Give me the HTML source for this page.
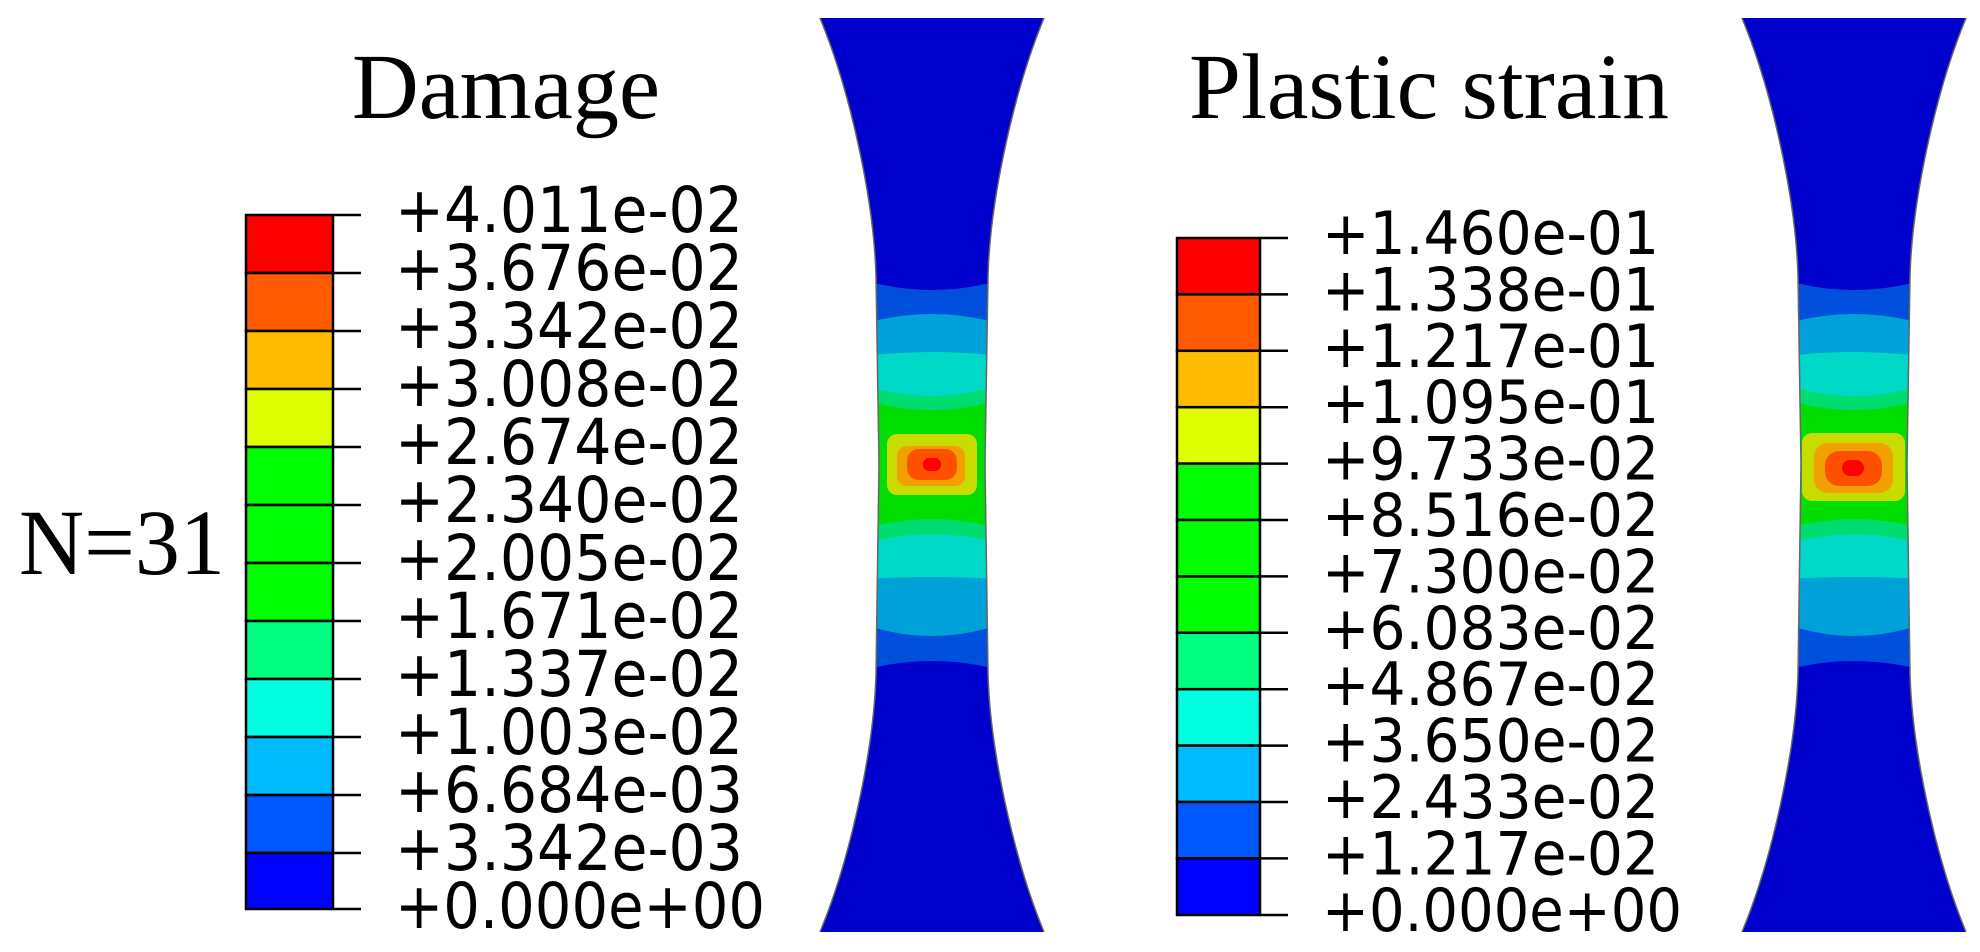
<!DOCTYPE html>
<html><head><meta charset="utf-8"><style>html,body{margin:0;padding:0;background:#fff;}svg{display:block}</style></head>
<body>
<svg width="1980" height="952" viewBox="0 0 1980 952" xmlns="http://www.w3.org/2000/svg">
<defs>
<clipPath id="spec"><path d="M820,18 C850,90 874,200 876,276 L879,464 L876,674 C874,750 850,860 820,932 L1044,932 C1014,860 990,750 988,674 L985,464 L988,276 C990,200 1014,90 1044,18 Z"/></clipPath>
<g id="bands">
<path d="M820,18 C850,90 874,200 876,276 L879,464 L876,674 C874,750 850,860 820,932 L1044,932 C1014,860 990,750 988,674 L985,464 L988,276 C990,200 1014,90 1044,18 Z" fill="#0000cc"/>
<path d="M850,276 Q932,304 1014,276 L1014,674 Q932,648 850,674 Z" fill="#004fdc"/>
<path d="M850,328 Q932,300 1014,328 L1014,619 Q932,653 850,619 Z" fill="#00a0d8"/>
<path d="M850,358 Q932,346 1014,358 L1014,580 Q932,574 850,580 Z" fill="#00d8c8"/>
<path d="M850,380 Q932,412 1014,380 L1014,549 Q932,519 850,549 Z" fill="#00dd70"/>
<path d="M850,395 Q932,425 1014,395 L1014,533 Q932,505 850,533 Z" fill="#00dd00"/>
</g>
</defs>
<g font-family="'Liberation Serif',serif" font-size="93" fill="#000">
<text x="352" y="118" textLength="308" lengthAdjust="spacingAndGlyphs">Damage</text>
<text x="1189" y="118" textLength="480" lengthAdjust="spacingAndGlyphs">Plastic strain</text>
<text x="19" y="574" textLength="206" lengthAdjust="spacingAndGlyphs">N=31</text>
</g>
<g clip-path="url(#spec)"><use href="#bands"/>
<rect x="887" y="434" width="90" height="61" rx="10" fill="#c8dc00"/>
<rect x="897" y="446" width="68" height="40" rx="10" fill="#f0a000"/>
<rect x="907" y="449" width="50" height="31" rx="12" fill="#ff5000"/>
<rect x="923" y="458" width="18" height="13" rx="6" fill="#ff0000"/>
</g>
<path d="M820,18 C850,90 874,200 876,276 L879,464 L876,674 C874,750 850,860 820,932 M1044,932 C1014,860 990,750 988,674 L985,464 L988,276 C990,200 1014,90 1044,18" fill="none" stroke="#666" stroke-width="1.5"/>
<g transform="translate(922,0)">
<g clip-path="url(#spec)"><use href="#bands"/>
<rect x="880" y="433" width="103" height="68" rx="10" fill="#c8dc00"/>
<rect x="892" y="443" width="79" height="50" rx="14" fill="#f0a000"/>
<rect x="903" y="451" width="57" height="35" rx="14" fill="#ff5000"/>
<rect x="920" y="460" width="22" height="16" rx="8" fill="#ff0000"/>
</g>
<path d="M820,18 C850,90 874,200 876,276 L879,464 L876,674 C874,750 850,860 820,932 M1044,932 C1014,860 990,750 988,674 L985,464 L988,276 C990,200 1014,90 1044,18" fill="none" stroke="#666" stroke-width="1.5"/>
</g>
<g stroke="#000" stroke-width="2.5">
<rect x="246" y="215" width="87" height="58" fill="#ff0000"/>
<rect x="246" y="273" width="87" height="58" fill="#ff5a00"/>
<rect x="246" y="331" width="87" height="58" fill="#ffbb00"/>
<rect x="246" y="389" width="87" height="58" fill="#ddff00"/>
<rect x="246" y="447" width="87" height="58" fill="#00ff00"/>
<rect x="246" y="505" width="87" height="58" fill="#00ff00"/>
<rect x="246" y="563" width="87" height="58" fill="#00ff00"/>
<rect x="246" y="621" width="87" height="58" fill="#00ff80"/>
<rect x="246" y="679" width="87" height="58" fill="#00ffe0"/>
<rect x="246" y="737" width="87" height="58" fill="#00bbff"/>
<rect x="246" y="795" width="87" height="58" fill="#0058ff"/>
<rect x="246" y="853" width="87" height="56" fill="#0000ff"/>
<path d="M333,215H361M333,273H361M333,331H361M333,389H361M333,447H361M333,505H361M333,563H361M333,621H361M333,679H361M333,737H361M333,795H361M333,853H361M333,909H361"/>
</g>
<g font-family="'DejaVu Sans',sans-serif" font-size="63" fill="#000">
<text x="395" y="232" textLength="348" lengthAdjust="spacingAndGlyphs">+4.011e-02</text>
<text x="395" y="290" textLength="348" lengthAdjust="spacingAndGlyphs">+3.676e-02</text>
<text x="395" y="348" textLength="348" lengthAdjust="spacingAndGlyphs">+3.342e-02</text>
<text x="395" y="406" textLength="348" lengthAdjust="spacingAndGlyphs">+3.008e-02</text>
<text x="395" y="464" textLength="348" lengthAdjust="spacingAndGlyphs">+2.674e-02</text>
<text x="395" y="522" textLength="348" lengthAdjust="spacingAndGlyphs">+2.340e-02</text>
<text x="395" y="580" textLength="348" lengthAdjust="spacingAndGlyphs">+2.005e-02</text>
<text x="395" y="638" textLength="348" lengthAdjust="spacingAndGlyphs">+1.671e-02</text>
<text x="395" y="696" textLength="348" lengthAdjust="spacingAndGlyphs">+1.337e-02</text>
<text x="395" y="754" textLength="348" lengthAdjust="spacingAndGlyphs">+1.003e-02</text>
<text x="395" y="812" textLength="348" lengthAdjust="spacingAndGlyphs">+6.684e-03</text>
<text x="395" y="870" textLength="348" lengthAdjust="spacingAndGlyphs">+3.342e-03</text>
<text x="395" y="928" textLength="370" lengthAdjust="spacingAndGlyphs">+0.000e+00</text>
</g>
<g stroke="#000" stroke-width="2.5">
<rect x="1177" y="238" width="83" height="56.4" fill="#ff0000"/>
<rect x="1177" y="294.4" width="83" height="56.4" fill="#ff5a00"/>
<rect x="1177" y="350.8" width="83" height="56.4" fill="#ffbb00"/>
<rect x="1177" y="407.2" width="83" height="56.4" fill="#ddff00"/>
<rect x="1177" y="463.6" width="83" height="56.4" fill="#00ff00"/>
<rect x="1177" y="520" width="83" height="56.4" fill="#00ff00"/>
<rect x="1177" y="576.4" width="83" height="56.4" fill="#00ff00"/>
<rect x="1177" y="632.8" width="83" height="56.4" fill="#00ff80"/>
<rect x="1177" y="689.2" width="83" height="56.4" fill="#00ffe0"/>
<rect x="1177" y="745.6" width="83" height="56.4" fill="#00bbff"/>
<rect x="1177" y="802" width="83" height="56.4" fill="#0058ff"/>
<rect x="1177" y="858.4" width="83" height="56.6" fill="#0000ff"/>
<path d="M1260,238H1288M1260,294.4H1288M1260,350.8H1288M1260,407.2H1288M1260,463.6H1288M1260,520H1288M1260,576.4H1288M1260,632.8H1288M1260,689.2H1288M1260,745.6H1288M1260,802H1288M1260,858.4H1288M1260,915H1288"/>
</g>
<g font-family="'DejaVu Sans',sans-serif" font-size="60" fill="#000">
<text x="1322" y="254" textLength="337" lengthAdjust="spacingAndGlyphs">+1.460e-01</text>
<text x="1322" y="310.4" textLength="337" lengthAdjust="spacingAndGlyphs">+1.338e-01</text>
<text x="1322" y="366.8" textLength="337" lengthAdjust="spacingAndGlyphs">+1.217e-01</text>
<text x="1322" y="423.2" textLength="337" lengthAdjust="spacingAndGlyphs">+1.095e-01</text>
<text x="1322" y="479.6" textLength="337" lengthAdjust="spacingAndGlyphs">+9.733e-02</text>
<text x="1322" y="536" textLength="337" lengthAdjust="spacingAndGlyphs">+8.516e-02</text>
<text x="1322" y="592.4" textLength="337" lengthAdjust="spacingAndGlyphs">+7.300e-02</text>
<text x="1322" y="648.8" textLength="337" lengthAdjust="spacingAndGlyphs">+6.083e-02</text>
<text x="1322" y="705.2" textLength="337" lengthAdjust="spacingAndGlyphs">+4.867e-02</text>
<text x="1322" y="761.6" textLength="337" lengthAdjust="spacingAndGlyphs">+3.650e-02</text>
<text x="1322" y="818" textLength="337" lengthAdjust="spacingAndGlyphs">+2.433e-02</text>
<text x="1322" y="874.4" textLength="337" lengthAdjust="spacingAndGlyphs">+1.217e-02</text>
<text x="1322" y="931" textLength="360" lengthAdjust="spacingAndGlyphs">+0.000e+00</text>
</g>
</svg>
</body></html>
